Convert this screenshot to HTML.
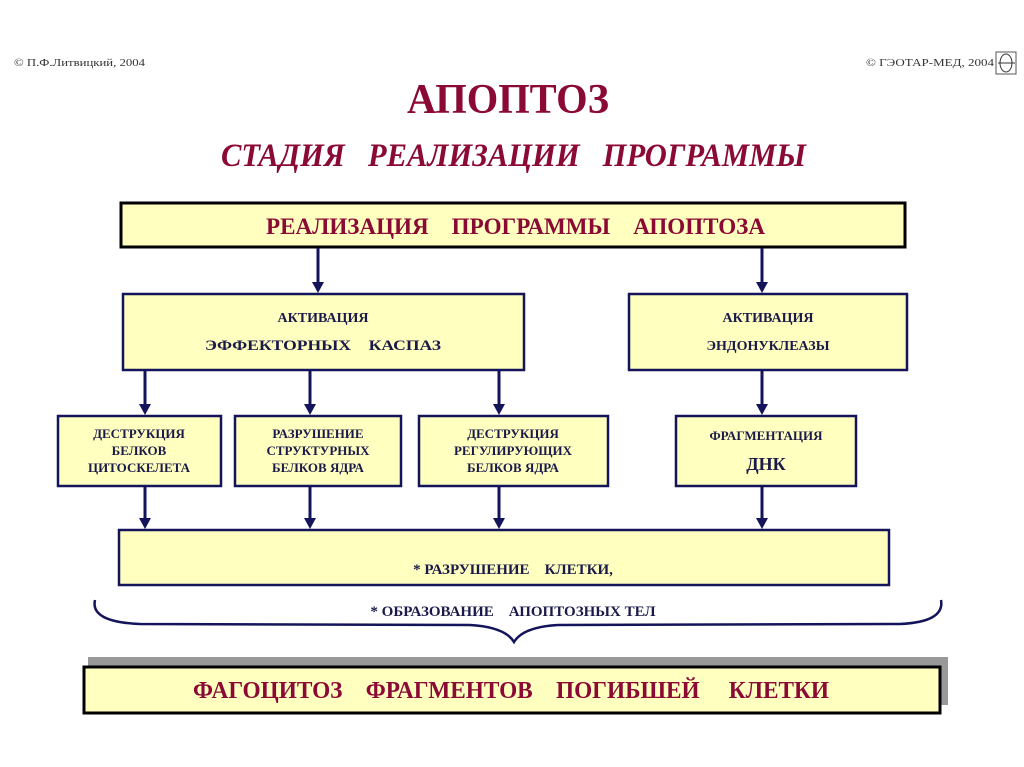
<!DOCTYPE html>
<html><head><meta charset="utf-8"><style>
html,body{margin:0;padding:0;background:#fff;}
svg{display:block;}
text{font-family:"Liberation Serif",serif;font-weight:bold;}
</style></head><body>
<svg width="1024" height="767" viewBox="0 0 1024 767" xmlns="http://www.w3.org/2000/svg">
<text x="14" y="66" font-size="11" fill="#333" textLength="131" lengthAdjust="spacingAndGlyphs" style="font-weight:normal">© П.Ф.Литвицкий, 2004</text>
<text x="866" y="66" font-size="11" fill="#333" textLength="128" lengthAdjust="spacingAndGlyphs" style="font-weight:normal">© ГЭОТАР-МЕД, 2004</text>
<rect x="996" y="52" width="20" height="22" fill="#fff" stroke="#555" stroke-width="1"/>
<ellipse cx="1006" cy="63" rx="6" ry="9" fill="none" stroke="#333"/>
<line x1="998" y1="63" x2="1015" y2="63" stroke="#333"/>
<text x="407" y="113" font-size="42" fill="#8b0a35" textLength="202" lengthAdjust="spacingAndGlyphs">АПОПТОЗ</text>
<text x="221" y="166" font-size="33" font-style="italic" fill="#8b0a35" textLength="585" lengthAdjust="spacingAndGlyphs" xml:space="preserve">СТАДИЯ   РЕАЛИЗАЦИИ   ПРОГРАММЫ</text>

<rect x="121" y="203" width="784" height="44" fill="#ffffc0" stroke="#000" stroke-width="3"/>
<text x="266" y="234" font-size="23" fill="#8b0a35" textLength="499" lengthAdjust="spacingAndGlyphs" xml:space="preserve">РЕАЛИЗАЦИЯ    ПРОГРАММЫ    АПОПТОЗА</text>

<g stroke="#14145a" stroke-width="3">
<line x1="318" y1="248" x2="318" y2="284"/>
<line x1="762" y1="248" x2="762" y2="284"/>
<line x1="145" y1="371" x2="145" y2="406"/>
<line x1="310" y1="371" x2="310" y2="406"/>
<line x1="499" y1="371" x2="499" y2="406"/>
<line x1="762" y1="371" x2="762" y2="406"/>
<line x1="145" y1="487" x2="145" y2="520"/>
<line x1="310" y1="487" x2="310" y2="520"/>
<line x1="499" y1="487" x2="499" y2="520"/>
<line x1="762" y1="487" x2="762" y2="520"/>
</g>
<g fill="#14145a">
<path d="M312,282 L324,282 L318,293 Z"/>
<path d="M756,282 L768,282 L762,293 Z"/>
<path d="M139,404 L151,404 L145,415 Z"/>
<path d="M304,404 L316,404 L310,415 Z"/>
<path d="M493,404 L505,404 L499,415 Z"/>
<path d="M756,404 L768,404 L762,415 Z"/>
<path d="M139,518 L151,518 L145,529 Z"/>
<path d="M304,518 L316,518 L310,529 Z"/>
<path d="M493,518 L505,518 L499,529 Z"/>
<path d="M756,518 L768,518 L762,529 Z"/>
</g>

<g fill="#ffffc0" stroke="#14145a" stroke-width="2.5">
<rect x="123" y="294" width="401" height="76"/>
<rect x="629" y="294" width="278" height="76"/>
<rect x="58" y="416" width="163" height="70"/>
<rect x="235" y="416" width="166" height="70"/>
<rect x="419" y="416" width="189" height="70"/>
<rect x="676" y="416" width="180" height="70"/>
<rect x="119" y="530" width="770" height="55"/>
</g>

<g fill="#1a1a4a" font-size="14" text-anchor="middle">
<text x="323" y="322">АКТИВАЦИЯ</text>
<text x="768" y="322">АКТИВАЦИЯ</text>
<text x="768" y="350">ЭНДОНУКЛЕАЗЫ</text>
<g font-size="13">
<text x="139" y="438">ДЕСТРУКЦИЯ</text>
<text x="139" y="455">БЕЛКОВ</text>
<text x="139" y="472">ЦИТОСКЕЛЕТА</text>
<text x="318" y="438">РАЗРУШЕНИЕ</text>
<text x="318" y="455">СТРУКТУРНЫХ</text>
<text x="318" y="472">БЕЛКОВ ЯДРА</text>
<text x="513" y="438">ДЕСТРУКЦИЯ</text>
<text x="513" y="455">РЕГУЛИРУЮЩИХ</text>
<text x="513" y="472">БЕЛКОВ ЯДРА</text>
<text x="766" y="440">ФРАГМЕНТАЦИЯ</text>
</g>
<text x="766" y="470" font-size="18">ДНК</text>
<text x="513" y="574" font-size="15" xml:space="preserve">* РАЗРУШЕНИЕ    КЛЕТКИ,</text>
<text x="513" y="616" font-size="15" xml:space="preserve">* ОБРАЗОВАНИЕ    АПОПТОЗНЫХ ТЕЛ</text>
</g>
<text x="205" y="350" font-size="15" fill="#1a1a4a" textLength="236" lengthAdjust="spacingAndGlyphs" xml:space="preserve">ЭФФЕКТОРНЫХ    КАСПАЗ</text>

<path d="M95,600 Q90,622 140,624 L470,625 Q505,627 514,642 Q523,627 558,625 L900,624 Q945,622 941,600" fill="none" stroke="#14145a" stroke-width="2.5"/>

<rect x="88" y="657" width="860" height="48" fill="#999"/>
<rect x="84" y="667" width="856" height="46" fill="#ffffc0" stroke="#000" stroke-width="3"/>
<text x="193" y="698" font-size="24" fill="#8b0a35" textLength="636" lengthAdjust="spacingAndGlyphs" xml:space="preserve">ФАГОЦИТОЗ    ФРАГМЕНТОВ    ПОГИБШЕЙ     КЛЕТКИ</text>
</svg>
</body></html>
